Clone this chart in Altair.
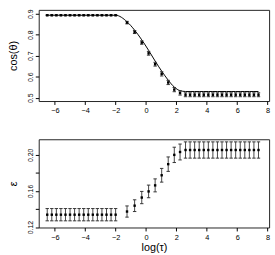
import altair as alt
import pandas as pd

# log(tau) grid: flat low region, transition, flat high region
x_left = [-6.5, -6.2, -5.9, -5.6, -5.3, -5.0, -4.7, -4.4, -4.1, -3.8, -3.5, -3.2,
          -2.9, -2.6, -2.3, -2.0]
x_mid = [-1.25, -0.75, -0.28, 0.17, 0.6, 1.03, 1.46, 1.86, 2.24]
x_right = [2.6, 2.9, 3.2, 3.5, 3.8, 4.1, 4.4, 4.7, 5.0, 5.3, 5.6, 5.9, 6.2, 6.5,
           6.8, 7.1, 7.4]
log_tau = x_left + x_mid + x_right

# cos(theta): simulated means, their standard errors, and the theoretical curve
cos_theta = [0.893, 0.893, 0.893, 0.893, 0.893, 0.893, 0.893, 0.893, 0.893, 0.893,
             0.893, 0.893, 0.893, 0.893, 0.893, 0.893,
             0.858, 0.813, 0.763, 0.712, 0.660, 0.614, 0.573, 0.539, 0.523,
             0.5145, 0.5145, 0.5145, 0.5145, 0.5145, 0.5145, 0.5145, 0.5145, 0.5145,
             0.5145, 0.5145, 0.5145, 0.5145, 0.5145, 0.5145, 0.5145, 0.5145]
cos_err = [0.002, 0.002, 0.002, 0.002, 0.002, 0.002, 0.002, 0.002, 0.002, 0.002,
           0.002, 0.002, 0.002, 0.002, 0.002, 0.002,
           0.006, 0.007, 0.008, 0.009, 0.009, 0.010, 0.010, 0.010, 0.010,
           0.0093, 0.0093, 0.0093, 0.0093, 0.0093, 0.0093, 0.0093, 0.0093, 0.0093,
           0.0093, 0.0093, 0.0093, 0.0093, 0.0093, 0.0093, 0.0093, 0.0093]
cos_curve = [0.893, 0.893, 0.893, 0.893, 0.893, 0.893, 0.893, 0.893, 0.893, 0.893,
             0.893, 0.893, 0.893, 0.893, 0.893, 0.893,
             0.862, 0.822, 0.776, 0.726, 0.675, 0.627, 0.584, 0.551, 0.534,
             0.530, 0.530, 0.530, 0.530, 0.530, 0.530, 0.530, 0.530, 0.530,
             0.530, 0.530, 0.530, 0.530, 0.530, 0.530, 0.530, 0.530]

# epsilon: means and standard errors
eps = [0.1337, 0.1337, 0.1337, 0.1337, 0.1337, 0.1337, 0.1337, 0.1337, 0.1337,
       0.1337, 0.1337, 0.1337, 0.1337, 0.1337, 0.1337, 0.1337,
       0.1372, 0.1437, 0.1527, 0.1595, 0.1662, 0.1774, 0.1897, 0.2000, 0.2032,
       0.2054, 0.2054, 0.2054, 0.2054, 0.2054, 0.2054, 0.2054, 0.2054, 0.2054,
       0.2054, 0.2054, 0.2054, 0.2054, 0.2054, 0.2054, 0.2054, 0.2054]
eps_err = [0.0068, 0.0068, 0.0068, 0.0068, 0.0068, 0.0068, 0.0068, 0.0068, 0.0068,
           0.0068, 0.0068, 0.0068, 0.0068, 0.0068, 0.0068, 0.0068,
           0.0062, 0.0065, 0.0068, 0.0070, 0.0072, 0.0076, 0.0080, 0.0085, 0.0088,
           0.009, 0.009, 0.009, 0.009, 0.009, 0.009, 0.009, 0.009, 0.009,
           0.009, 0.009, 0.009, 0.009, 0.009, 0.009, 0.009, 0.009]

x_ticks = [-6, -4, -2, 0, 2, 4, 6, 8]
cos_ticks = [0.5, 0.6, 0.7, 0.8, 0.9]
eps_ticks = [0.12, 0.14, 0.16, 0.18, 0.20]

df = pd.DataFrame({
    "t": log_tau,
    "c": cos_theta,
    "c_lo": [m - s for m, s in zip(cos_theta, cos_err)],
    "c_hi": [m + s for m, s in zip(cos_theta, cos_err)],
    "cc": cos_curve,
    "e": eps,
    "e_lo": [m - s for m, s in zip(eps, eps_err)],
    "e_hi": [m + s for m, s in zip(eps, eps_err)],
})

FONT = "Liberation Sans"
W = 235
x_scale = alt.Scale(domain=[-7.06, 8.1], nice=False, zero=False, padding=0)
CAP = "M -1 0 L 1 0"  # short horizontal stroke for error-bar caps


def x_axis(title):
    return alt.Axis(title=title, values=x_ticks, tickCount=len(x_ticks),
                    format="d", tickSize=3.5, labelPadding=2.5, grid=False,
                    domain=False, labelFontSize=7.5, labelOverlap=False,
                    labelBound=False, labelFlush=False, titleFontSize=11,
                    titlePadding=1)


def y_axis(title, values, label_expr):
    return alt.Axis(title=title, values=values, tickCount=len(values),
                    labelExpr=label_expr,
                    tickSize=3.5, labelPadding=2, labelAngle=270,
                    labelAlign="center", labelBaseline="bottom", grid=False,
                    domain=False, labelFontSize=7, labelOverlap=False,
                    labelBound=False, labelFlush=False, titleFontSize=11,
                    titlePadding=8)


def panel(mid, lo, hi, y_scale, xa, ya, curve_col=None):
    X = alt.X("t:Q", scale=x_scale, axis=xa)

    def Y(col):
        return alt.Y(f"{col}:Q", scale=y_scale, axis=ya)

    base = alt.Chart(df)
    layers = []
    if curve_col:
        layers.append(base.mark_line(color="black", strokeWidth=1,
                                     interpolate="monotone")
                      .encode(x=X, y=Y(curve_col)))
    layers.append(base.mark_rule(color="#444", strokeWidth=1)
                  .encode(x=X, y=Y(lo), y2=f"{hi}:Q"))
    for col in (lo, hi):
        layers.append(base.mark_point(shape=CAP, size=12, filled=False,
                                      stroke="#333", strokeWidth=1, opacity=1)
                      .encode(x=X, y=Y(col)))
    layers.append(base.mark_square(size=6, color="black", opacity=1)
                  .encode(x=X, y=Y(mid)))
    return alt.layer(*layers)


cos_scale = alt.Scale(domain=[0.4846, 0.9187], nice=False, zero=False)
top = panel("c", "c_lo", "c_hi", cos_scale, x_axis(None),
            y_axis("cos(θ)", cos_ticks, "format(datum.value, '.1f')"),
            curve_col="cc").properties(width=W, height=93)

eps_scale = alt.Scale(domain=[0.1195, 0.2173], nice=False, zero=False)
eps_labels = ("(abs(datum.value - 0.14) < 0.001 || abs(datum.value - 0.18) < 0.001)"
              " ? '' : format(datum.value, '.2f')")
bottom = panel("e", "e_lo", "e_hi", eps_scale, x_axis("log(τ)"),
               y_axis("ε", eps_ticks, eps_labels)).properties(width=W, height=90)

chart = (
    alt.vconcat(top, bottom, spacing=24)
    .properties(padding={"left": 7.5, "top": 5.5, "right": 4, "bottom": 0})
    .configure(font=FONT)
    .configure_view(stroke="#222", strokeWidth=1)
    .configure_axis(labelFont=FONT, titleFont=FONT, labelColor="black",
                    titleColor="black", tickColor="black",
                    titleFontWeight="normal")
)

chart.save("out.html", embed_options={"renderer": "svg", "actions": False})
